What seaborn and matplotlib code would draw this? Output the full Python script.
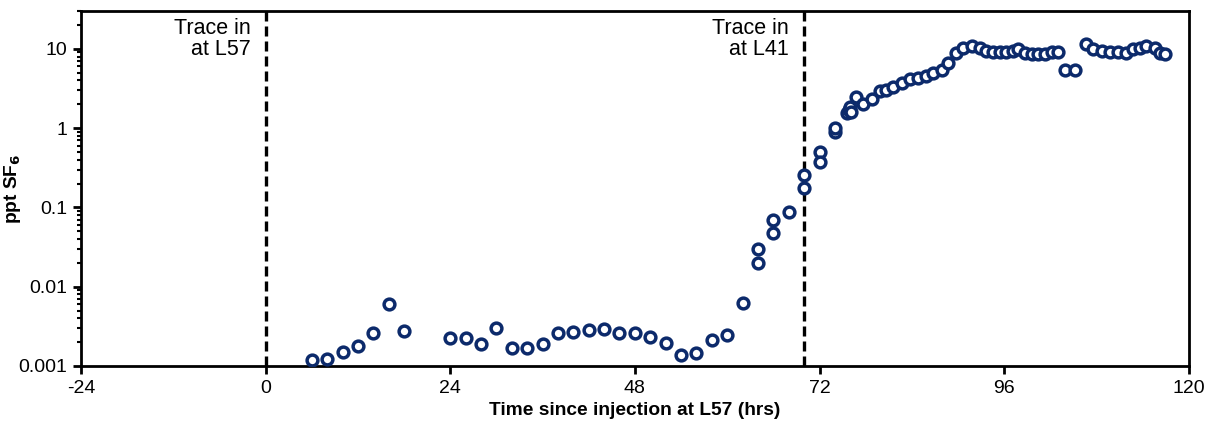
import matplotlib
matplotlib.use("Agg")
import matplotlib.pyplot as plt
import matplotlib.ticker as mticker
import numpy as np
import pandas as pd
import seaborn as sns

# Hours since injection at L57
hours = [6, 8, 10, 12, 14, 16, 18,
         24, 26, 28, 30, 32, 34, 36, 38, 40, 42, 44, 46, 48, 50, 52, 54, 56, 58, 60, 62,
         64, 64, 66, 66, 68, 70, 70, 72, 72, 74, 74,
         75.6, 75.8, 76.0, 76.1, 76.8, 77.7, 78.8, 79.8, 80.7, 81.6, 82.7, 83.8, 84.8,
         85.9, 86.8, 87.9, 88.7, 89.7, 90.7, 91.8, 92.9, 93.7, 94.6, 95.5, 96.3, 97.2,
         97.8, 98.7, 99.6, 100.4, 101.3, 102.2, 103.0, 103.9, 105.2,
         106.7, 107.6, 108.7, 109.7, 110.8, 111.8, 112.8, 113.6, 114.5, 115.6, 116.3, 116.9]

# SF6 concentration (ppt)
sf6_ppt = [0.0012, 0.00122, 0.0015, 0.00177, 0.0026, 0.0060, 0.00276,
           0.00228, 0.00228, 0.0019, 0.0030, 0.00167, 0.00167, 0.0019, 0.0026, 0.00266,
           0.00286, 0.0029, 0.0026, 0.0026, 0.00232, 0.00195, 0.00136, 0.00146, 0.0021,
           0.00246, 0.0062,
           0.0297, 0.0198, 0.0695, 0.047, 0.0877, 0.257, 0.178, 0.506, 0.378, 0.90, 1.0,
           1.55, 1.7, 1.85, 1.62, 2.5, 2.0, 2.3, 2.9, 3.0, 3.3, 3.7, 4.2, 4.3,
           4.5, 5.0, 5.4, 6.7, 8.9, 10.2, 11.0, 10.2, 9.3, 9.2, 9.2, 9.2, 9.3,
           10.0, 8.9, 8.7, 8.7, 8.7, 9.0, 9.0, 5.4, 5.4,
           11.6, 10.0, 9.3, 9.1, 9.1, 8.9, 9.9, 10.2, 10.8, 10.2, 8.9, 8.5]

x_ticks = [-24, 0, 24, 48, 72, 96, 120]
y_ticks = [0.001, 0.01, 0.1, 1, 10]
trace_hours = [0, 70]
trace_labels = ["Trace in\nat L57", "Trace in\nat L41"]

df = pd.DataFrame({"hours": hours, "sf6": sf6_ppt})

sns.set_theme(style="white")
plt.rcParams["font.family"] = ["Liberation Sans", "DejaVu Sans"]

navy = "#0c2a6b"

fig = plt.figure(figsize=(12.13, 4.25), dpi=100)
ax = fig.add_axes([0.0668, 0.139, 0.9132, 0.835])

sns.scatterplot(data=df, x="hours", y="sf6", ax=ax, s=60,
                facecolor="white", edgecolor=navy, linewidth=2.5, zorder=3)

ax.set_yscale("log")
ax.set_xlim(-24, 120)
ax.set_ylim(0.001, 30)

for h, lab in zip(trace_hours, trace_labels):
    ax.axvline(h, color="black", lw=2.4, linestyle=(0, (3.0, 1.5)), zorder=2)
    ax.text(h - 2.0, 24.5, lab, ha="right", va="top", fontsize=15.5,
            linespacing=1.02, color="black")

ax.set_xticks(x_ticks)
ax.set_xticklabels([str(v) for v in x_ticks])
ax.set_yticks(y_ticks)
ax.yaxis.set_major_formatter(mticker.FuncFormatter(lambda v, p: f"{v:g}"))
ax.yaxis.set_minor_locator(mticker.LogLocator(base=10, subs=np.arange(2, 10)))
ax.yaxis.set_minor_formatter(mticker.NullFormatter())

ax.tick_params(axis="both", which="major", direction="out", length=6, width=2,
               labelsize=14, colors="black", pad=4, left=True, bottom=True)
ax.tick_params(axis="y", which="minor", direction="out", length=3, width=1.5,
               left=True, colors="black")

for sp in ax.spines.values():
    sp.set_visible(True)
    sp.set_color("black")
    sp.set_linewidth(2)

ax.set_xlabel("Time since injection at L57 (hrs)", fontsize=13.8,
              fontweight="bold", color="black")
ax.xaxis.set_label_coords(0.5, -0.102)
ax.set_ylabel("ppt SF$_\\mathbf{6}$", fontsize=13.8, fontweight="bold",
              color="black")
ax.yaxis.set_label_coords(-0.052, 0.5)
ax.grid(False)

fig.savefig("out.png", dpi=100)
